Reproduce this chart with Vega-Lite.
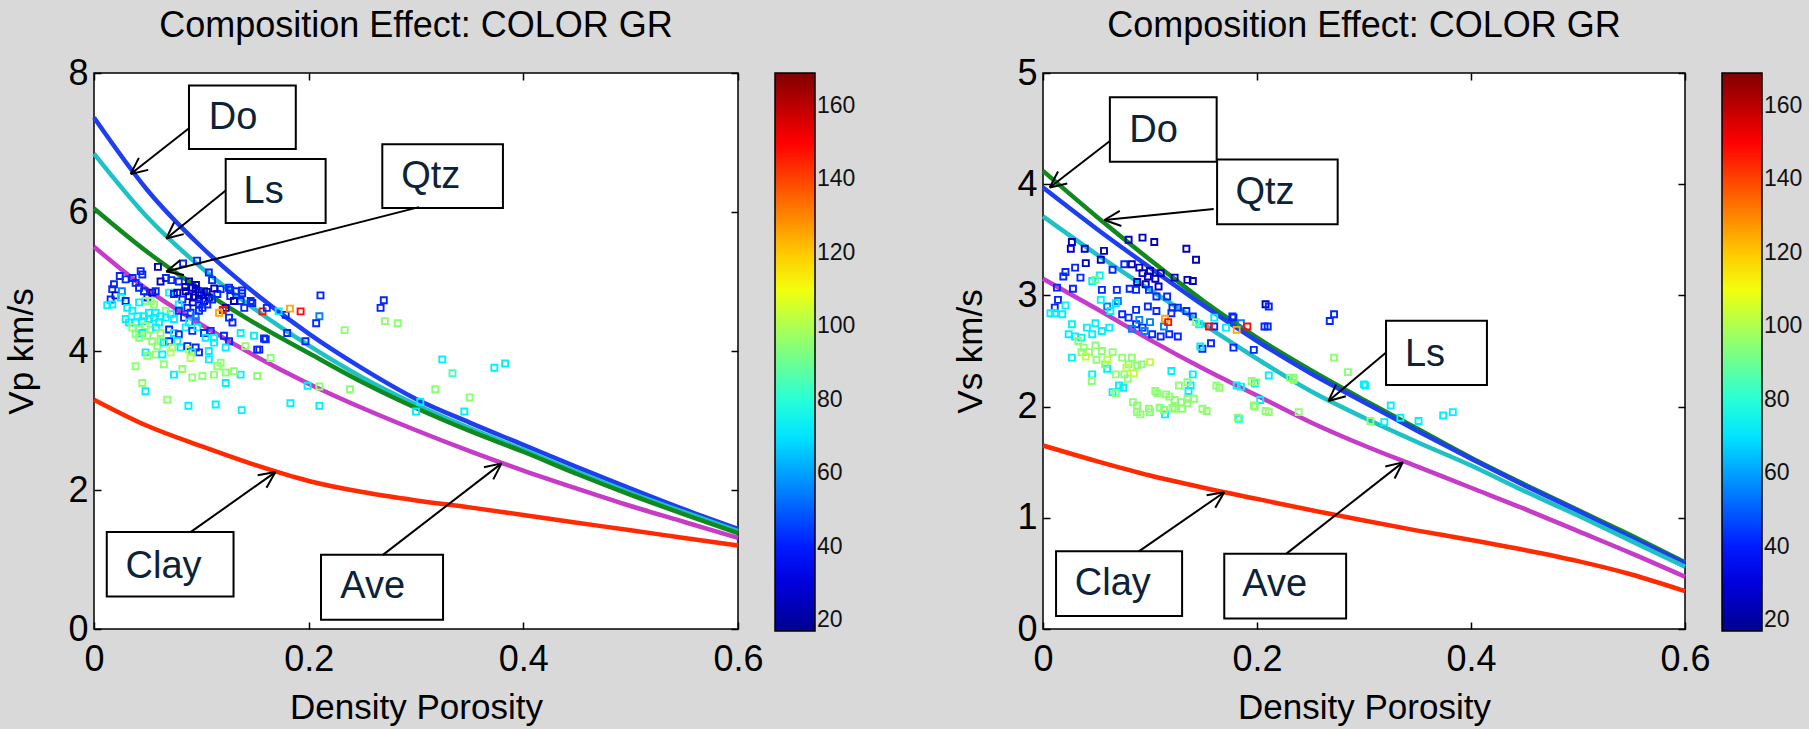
{
  "$schema": "https://vega.github.io/schema/vega-lite/v6.json",
  "background": "#d9d9d9",
  "padding": {"left": 4, "top": 7, "right": 5, "bottom": 5},
  "bounds": "flush",
  "spacing": 305,
  "datasets": {
    "curvesVp": [
      {"m":"Do","phi":0,"v":7.36},{"m":"Do","phi":0.05,"v":6.31},{"m":"Do","phi":0.1,"v":5.5},{"m":"Do","phi":0.15,"v":4.83},{"m":"Do","phi":0.2,"v":4.25},{"m":"Do","phi":0.25,"v":3.75},{"m":"Do","phi":0.3,"v":3.31},{"m":"Do","phi":0.35,"v":2.97},{"m":"Do","phi":0.4,"v":2.65},{"m":"Do","phi":0.45,"v":2.33},{"m":"Do","phi":0.5,"v":2.02},{"m":"Do","phi":0.55,"v":1.72},{"m":"Do","phi":0.6,"v":1.44},
      {"m":"Ls","phi":0,"v":6.84},{"m":"Ls","phi":0.05,"v":5.92},{"m":"Ls","phi":0.1,"v":5.2},{"m":"Ls","phi":0.15,"v":4.6},{"m":"Ls","phi":0.2,"v":4.08},{"m":"Ls","phi":0.25,"v":3.62},{"m":"Ls","phi":0.3,"v":3.23},{"m":"Ls","phi":0.35,"v":2.89},{"m":"Ls","phi":0.4,"v":2.58},{"m":"Ls","phi":0.45,"v":2.26},{"m":"Ls","phi":0.5,"v":1.96},{"m":"Ls","phi":0.55,"v":1.68},{"m":"Ls","phi":0.6,"v":1.41},
      {"m":"Qtz","phi":0,"v":6.05},{"m":"Qtz","phi":0.05,"v":5.42},{"m":"Qtz","phi":0.1,"v":4.88},{"m":"Qtz","phi":0.15,"v":4.4},{"m":"Qtz","phi":0.2,"v":3.97},{"m":"Qtz","phi":0.25,"v":3.55},{"m":"Qtz","phi":0.3,"v":3.18},{"m":"Qtz","phi":0.35,"v":2.85},{"m":"Qtz","phi":0.4,"v":2.55},{"m":"Qtz","phi":0.45,"v":2.23},{"m":"Qtz","phi":0.5,"v":1.93},{"m":"Qtz","phi":0.55,"v":1.65},{"m":"Qtz","phi":0.6,"v":1.38},
      {"m":"Ave","phi":0,"v":5.5},{"m":"Ave","phi":0.05,"v":4.88},{"m":"Ave","phi":0.1,"v":4.38},{"m":"Ave","phi":0.15,"v":3.93},{"m":"Ave","phi":0.2,"v":3.53},{"m":"Ave","phi":0.25,"v":3.18},{"m":"Ave","phi":0.3,"v":2.86},{"m":"Ave","phi":0.35,"v":2.56},{"m":"Ave","phi":0.4,"v":2.28},{"m":"Ave","phi":0.45,"v":2.02},{"m":"Ave","phi":0.5,"v":1.77},{"m":"Ave","phi":0.55,"v":1.54},{"m":"Ave","phi":0.6,"v":1.31},
      {"m":"Clay","phi":0,"v":3.3},{"m":"Clay","phi":0.05,"v":2.92},{"m":"Clay","phi":0.1,"v":2.63},{"m":"Clay","phi":0.15,"v":2.36},{"m":"Clay","phi":0.2,"v":2.13},{"m":"Clay","phi":0.25,"v":1.97},{"m":"Clay","phi":0.3,"v":1.85},{"m":"Clay","phi":0.35,"v":1.75},{"m":"Clay","phi":0.4,"v":1.64},{"m":"Clay","phi":0.45,"v":1.53},{"m":"Clay","phi":0.5,"v":1.42},{"m":"Clay","phi":0.55,"v":1.31},{"m":"Clay","phi":0.6,"v":1.2}
    ],
    "curvesVs": [
      {"m":"Qtz","phi":0,"v":4.12},{"m":"Qtz","phi":0.05,"v":3.71},{"m":"Qtz","phi":0.1,"v":3.32},{"m":"Qtz","phi":0.15,"v":2.95},{"m":"Qtz","phi":0.2,"v":2.62},{"m":"Qtz","phi":0.25,"v":2.33},{"m":"Qtz","phi":0.3,"v":2.06},{"m":"Qtz","phi":0.35,"v":1.8},{"m":"Qtz","phi":0.4,"v":1.54},{"m":"Qtz","phi":0.45,"v":1.3},{"m":"Qtz","phi":0.5,"v":1.07},{"m":"Qtz","phi":0.55,"v":0.84},{"m":"Qtz","phi":0.6,"v":0.6},
      {"m":"Do","phi":0,"v":3.97},{"m":"Do","phi":0.05,"v":3.6},{"m":"Do","phi":0.1,"v":3.25},{"m":"Do","phi":0.15,"v":2.91},{"m":"Do","phi":0.2,"v":2.59},{"m":"Do","phi":0.25,"v":2.3},{"m":"Do","phi":0.3,"v":2.04},{"m":"Do","phi":0.35,"v":1.78},{"m":"Do","phi":0.4,"v":1.53},{"m":"Do","phi":0.45,"v":1.29},{"m":"Do","phi":0.5,"v":1.06},{"m":"Do","phi":0.55,"v":0.82},{"m":"Do","phi":0.6,"v":0.59},
      {"m":"Ls","phi":0,"v":3.71},{"m":"Ls","phi":0.05,"v":3.37},{"m":"Ls","phi":0.1,"v":3.05},{"m":"Ls","phi":0.15,"v":2.74},{"m":"Ls","phi":0.2,"v":2.43},{"m":"Ls","phi":0.25,"v":2.14},{"m":"Ls","phi":0.3,"v":1.9},{"m":"Ls","phi":0.35,"v":1.68},{"m":"Ls","phi":0.4,"v":1.47},{"m":"Ls","phi":0.45,"v":1.24},{"m":"Ls","phi":0.5,"v":1.02},{"m":"Ls","phi":0.55,"v":0.79},{"m":"Ls","phi":0.6,"v":0.56},
      {"m":"Ave","phi":0,"v":3.15},{"m":"Ave","phi":0.05,"v":2.88},{"m":"Ave","phi":0.1,"v":2.6},{"m":"Ave","phi":0.15,"v":2.34},{"m":"Ave","phi":0.2,"v":2.1},{"m":"Ave","phi":0.25,"v":1.86},{"m":"Ave","phi":0.3,"v":1.65},{"m":"Ave","phi":0.35,"v":1.46},{"m":"Ave","phi":0.4,"v":1.27},{"m":"Ave","phi":0.45,"v":1.08},{"m":"Ave","phi":0.5,"v":0.88},{"m":"Ave","phi":0.55,"v":0.68},{"m":"Ave","phi":0.6,"v":0.47},
      {"m":"Clay","phi":0,"v":1.65},{"m":"Clay","phi":0.05,"v":1.51},{"m":"Clay","phi":0.1,"v":1.38},{"m":"Clay","phi":0.15,"v":1.27},{"m":"Clay","phi":0.2,"v":1.17},{"m":"Clay","phi":0.25,"v":1.07},{"m":"Clay","phi":0.3,"v":0.975},{"m":"Clay","phi":0.35,"v":0.885},{"m":"Clay","phi":0.4,"v":0.8},{"m":"Clay","phi":0.45,"v":0.71},{"m":"Clay","phi":0.5,"v":0.61},{"m":"Clay","phi":0.55,"v":0.49},{"m":"Clay","phi":0.6,"v":0.34}
    ],
    "ptsVp": [
      {"phi":0.0596,"v":5.21,"gr":25},{"phi":0.0435,"v":5.15,"gr":42},{"phi":0.045,"v":5.1,"gr":42},{"phi":0.083,"v":5.26,"gr":42},{"phi":0.096,"v":5.3,"gr":42},{"phi":0.107,"v":5.13,"gr":42},{"phi":0.11,"v":5.02,"gr":42},{"phi":0.067,"v":5.05,"gr":42},{"phi":0.062,"v":5.0,"gr":25},{"phi":0.072,"v":5.02,"gr":42},
      {"phi":0.079,"v":5.0,"gr":42},{"phi":0.024,"v":5.08,"gr":42},{"phi":0.0295,"v":5.03,"gr":42},{"phi":0.036,"v":5.05,"gr":42},{"phi":0.0388,"v":4.98,"gr":42},{"phi":0.0186,"v":4.96,"gr":42},{"phi":0.017,"v":4.89,"gr":42},{"phi":0.02,"v":4.8,"gr":25},{"phi":0.026,"v":4.86,"gr":55},{"phi":0.0155,"v":4.74,"gr":42},
      {"phi":0.0124,"v":4.66,"gr":72},{"phi":0.017,"v":4.67,"gr":72},{"phi":0.025,"v":4.77,"gr":72},{"phi":0.0295,"v":4.72,"gr":42},{"phi":0.031,"v":4.62,"gr":72},{"phi":0.042,"v":4.91,"gr":42},{"phi":0.0466,"v":4.86,"gr":42},{"phi":0.0497,"v":4.77,"gr":42},{"phi":0.0543,"v":4.84,"gr":25},{"phi":0.0575,"v":4.86,"gr":42},
      {"phi":0.07,"v":4.84,"gr":72},{"phi":0.0745,"v":4.82,"gr":42},{"phi":0.0776,"v":4.84,"gr":25},{"phi":0.0885,"v":5.0,"gr":25},{"phi":0.0916,"v":4.91,"gr":25},{"phi":0.0947,"v":4.89,"gr":25},{"phi":0.0978,"v":4.84,"gr":25},{"phi":0.1025,"v":4.86,"gr":42},{"phi":0.0854,"v":4.86,"gr":25},{"phi":0.0885,"v":4.79,"gr":25},
      {"phi":0.093,"v":4.77,"gr":25},{"phi":0.0978,"v":4.74,"gr":25},{"phi":0.1025,"v":4.72,"gr":25},{"phi":0.107,"v":4.77,"gr":25},{"phi":0.101,"v":4.62,"gr":42},{"phi":0.1056,"v":4.67,"gr":42},{"phi":0.11,"v":4.74,"gr":42},{"phi":0.1149,"v":4.82,"gr":42},{"phi":0.118,"v":4.89,"gr":42},{"phi":0.1258,"v":4.91,"gr":42},
      {"phi":0.132,"v":4.86,"gr":42},{"phi":0.138,"v":4.87,"gr":42},{"phi":0.127,"v":4.79,"gr":42},{"phi":0.1366,"v":4.72,"gr":42},{"phi":0.146,"v":4.72,"gr":42},{"phi":0.14,"v":4.62,"gr":42},{"phi":0.1304,"v":4.72,"gr":25},{"phi":0.1227,"v":4.62,"gr":25},{"phi":0.1258,"v":4.48,"gr":42},{"phi":0.129,"v":4.41,"gr":42},
      {"phi":0.0823,"v":4.74,"gr":42},{"phi":0.079,"v":4.67,"gr":72},{"phi":0.087,"v":4.62,"gr":42},{"phi":0.09,"v":4.55,"gr":42},{"phi":0.0947,"v":4.5,"gr":55},{"phi":0.0978,"v":4.58,"gr":42},{"phi":0.0839,"v":4.48,"gr":42},{"phi":0.0885,"v":4.41,"gr":72},{"phi":0.0947,"v":4.43,"gr":55},{"phi":0.079,"v":4.58,"gr":42},
      {"phi":0.0714,"v":4.53,"gr":72},{"phi":0.0745,"v":4.46,"gr":72},{"phi":0.0668,"v":4.58,"gr":95},{"phi":0.062,"v":4.5,"gr":72},{"phi":0.0575,"v":4.55,"gr":72},{"phi":0.0528,"v":4.72,"gr":95},{"phi":0.056,"v":4.67,"gr":95},{"phi":0.048,"v":4.72,"gr":95},{"phi":0.042,"v":4.7,"gr":72},{"phi":0.0357,"v":4.58,"gr":72},
      {"phi":0.0404,"v":4.5,"gr":72},{"phi":0.0466,"v":4.5,"gr":72},{"phi":0.0512,"v":4.55,"gr":72},{"phi":0.0295,"v":4.46,"gr":72},{"phi":0.0326,"v":4.41,"gr":72},{"phi":0.0388,"v":4.41,"gr":72},{"phi":0.045,"v":4.43,"gr":72},{"phi":0.0512,"v":4.46,"gr":72},{"phi":0.056,"v":4.48,"gr":72},{"phi":0.0606,"v":4.41,"gr":72},
      {"phi":0.0668,"v":4.48,"gr":72},{"phi":0.0357,"v":4.34,"gr":95},{"phi":0.042,"v":4.31,"gr":95},{"phi":0.048,"v":4.36,"gr":95},{"phi":0.0528,"v":4.31,"gr":95},{"phi":0.0575,"v":4.34,"gr":72},{"phi":0.062,"v":4.26,"gr":95},{"phi":0.0388,"v":4.24,"gr":95},{"phi":0.045,"v":4.26,"gr":72},{"phi":0.0497,"v":4.22,"gr":95},
      {"phi":0.07,"v":4.31,"gr":42},{"phi":0.0745,"v":4.26,"gr":72},{"phi":0.079,"v":4.24,"gr":42},{"phi":0.0854,"v":4.34,"gr":72},{"phi":0.0916,"v":4.29,"gr":42},{"phi":0.0963,"v":4.34,"gr":72},{"phi":0.1025,"v":4.26,"gr":42},{"phi":0.1087,"v":4.29,"gr":42},{"phi":0.104,"v":4.19,"gr":72},{"phi":0.1118,"v":4.19,"gr":72},
      {"phi":0.1211,"v":4.22,"gr":42},{"phi":0.1258,"v":4.14,"gr":42},{"phi":0.1227,"v":4.05,"gr":72},{"phi":0.0776,"v":4.14,"gr":72},{"phi":0.07,"v":4.14,"gr":42},{"phi":0.073,"v":4.05,"gr":95},{"phi":0.0807,"v":4.05,"gr":72},{"phi":0.087,"v":4.07,"gr":42},{"phi":0.0885,"v":4.02,"gr":102},{"phi":0.0947,"v":4.05,"gr":42},
      {"phi":0.0978,"v":3.98,"gr":42},{"phi":0.0916,"v":3.98,"gr":72},{"phi":0.062,"v":4.14,"gr":95},{"phi":0.0543,"v":4.14,"gr":95},{"phi":0.059,"v":4.07,"gr":95},{"phi":0.065,"v":4.12,"gr":72},{"phi":0.042,"v":4.19,"gr":95},{"phi":0.0575,"v":3.95,"gr":95},{"phi":0.0714,"v":3.98,"gr":102},{"phi":0.107,"v":4.0,"gr":72},
      {"phi":0.1118,"v":4.12,"gr":72},{"phi":0.1366,"v":4.26,"gr":72},{"phi":0.152,"v":4.02,"gr":42},{"phi":0.1584,"v":4.18,"gr":42},{"phi":0.141,"v":4.07,"gr":95},{"phi":0.149,"v":4.22,"gr":72},{"phi":0.1646,"v":3.9,"gr":95},{"phi":0.152,"v":3.64,"gr":95},{"phi":0.1366,"v":3.66,"gr":72},{"phi":0.1304,"v":3.71,"gr":95},
      {"phi":0.1227,"v":3.69,"gr":95},{"phi":0.1149,"v":3.78,"gr":95},{"phi":0.118,"v":3.83,"gr":95},{"phi":0.107,"v":3.88,"gr":72},{"phi":0.09,"v":3.9,"gr":102},{"phi":0.0637,"v":3.95,"gr":72},{"phi":0.048,"v":3.98,"gr":72},{"phi":0.0497,"v":3.93,"gr":95},{"phi":0.0388,"v":3.78,"gr":95},{"phi":0.065,"v":3.81,"gr":95},
      {"phi":0.0745,"v":3.66,"gr":72},{"phi":0.0823,"v":3.74,"gr":95},{"phi":0.101,"v":3.64,"gr":95},{"phi":0.0916,"v":3.62,"gr":95},{"phi":0.1118,"v":3.66,"gr":95},{"phi":0.045,"v":3.54,"gr":95},{"phi":0.048,"v":3.42,"gr":72},{"phi":0.0683,"v":3.3,"gr":95},{"phi":0.088,"v":3.21,"gr":72},{"phi":0.1134,"v":3.23,"gr":72},
      {"phi":0.1376,"v":3.15,"gr":72},{"phi":0.1227,"v":3.54,"gr":72},{"phi":0.3245,"v":3.88,"gr":72},{"phi":0.334,"v":3.68,"gr":85},{"phi":0.373,"v":3.76,"gr":72},{"phi":0.383,"v":3.82,"gr":72},{"phi":0.318,"v":3.45,"gr":95},{"phi":0.35,"v":3.33,"gr":95},{"phi":0.345,"v":3.13,"gr":72},{"phi":0.304,"v":3.27,"gr":72},
      {"phi":0.3,"v":3.13,"gr":72},{"phi":0.271,"v":4.43,"gr":95},{"phi":0.283,"v":4.4,"gr":95},{"phi":0.267,"v":4.62,"gr":42},{"phi":0.27,"v":4.73,"gr":42},{"phi":0.211,"v":4.8,"gr":42},{"phi":0.21,"v":4.5,"gr":55},{"phi":0.207,"v":4.4,"gr":42},{"phi":0.2335,"v":4.3,"gr":95},{"phi":0.2385,"v":3.45,"gr":95},
      {"phi":0.21,"v":3.21,"gr":72},{"phi":0.183,"v":3.25,"gr":72},{"phi":0.199,"v":3.5,"gr":72},{"phi":0.21,"v":3.49,"gr":95},{"phi":0.197,"v":4.14,"gr":42},{"phi":0.18,"v":4.26,"gr":42},{"phi":0.1786,"v":4.52,"gr":42},{"phi":0.172,"v":4.57,"gr":72},{"phi":0.1925,"v":4.57,"gr":148},{"phi":0.1826,"v":4.61,"gr":125},
      {"phi":0.157,"v":4.57,"gr":148},{"phi":0.12,"v":4.59,"gr":148},{"phi":0.1165,"v":4.55,"gr":125},{"phi":0.095,"v":4.95,"gr":25},{"phi":0.1,"v":4.8,"gr":25},{"phi":0.105,"v":4.85,"gr":25},{"phi":0.092,"v":4.7,"gr":25},{"phi":0.112,"v":4.9,"gr":25},{"phi":0.085,"v":4.92,"gr":25},{"phi":0.098,"v":4.68,"gr":42},
      {"phi":0.138,"v":4.83,"gr":42},{"phi":0.127,"v":4.88,"gr":42},{"phi":0.1475,"v":4.69,"gr":42},{"phi":0.161,"v":4.62,"gr":42},{"phi":0.16,"v":4.17,"gr":42},{"phi":0.154,"v":4.02,"gr":42}
    ],
    "ptsVs": [
      {"phi":0.093,"v":3.52,"gr":25},{"phi":0.08,"v":3.5,"gr":25},{"phi":0.104,"v":3.48,"gr":25},{"phi":0.134,"v":3.42,"gr":25},{"phi":0.143,"v":3.32,"gr":25},{"phi":0.027,"v":3.48,"gr":25},{"phi":0.026,"v":3.42,"gr":25},{"phi":0.039,"v":3.42,"gr":25},{"phi":0.054,"v":3.32,"gr":25},{"phi":0.057,"v":3.4,"gr":25},
      {"phi":0.04,"v":3.29,"gr":25},{"phi":0.083,"v":3.28,"gr":25},{"phi":0.09,"v":3.25,"gr":25},{"phi":0.093,"v":3.2,"gr":25},{"phi":0.098,"v":3.17,"gr":25},{"phi":0.1,"v":3.22,"gr":25},{"phi":0.105,"v":3.15,"gr":25},{"phi":0.11,"v":3.2,"gr":25},{"phi":0.088,"v":3.12,"gr":25},{"phi":0.096,"v":3.1,"gr":25},
      {"phi":0.108,"v":3.08,"gr":25},{"phi":0.123,"v":3.16,"gr":25},{"phi":0.135,"v":3.14,"gr":25},{"phi":0.14,"v":3.13,"gr":25},{"phi":0.208,"v":2.92,"gr":25},
      {"phi":0.021,"v":3.21,"gr":42},{"phi":0.019,"v":3.17,"gr":42},{"phi":0.03,"v":3.25,"gr":42},{"phi":0.035,"v":3.16,"gr":42},{"phi":0.028,"v":3.06,"gr":42},{"phi":0.013,"v":3.07,"gr":42},{"phi":0.014,"v":2.96,"gr":42},{"phi":0.011,"v":2.89,"gr":42},{"phi":0.055,"v":3.05,"gr":42},{"phi":0.065,"v":3.23,"gr":42},
      {"phi":0.069,"v":3.05,"gr":42},{"phi":0.076,"v":3.28,"gr":42},{"phi":0.081,"v":3.06,"gr":42},{"phi":0.087,"v":3.05,"gr":42},{"phi":0.099,"v":3.05,"gr":42},{"phi":0.106,"v":2.99,"gr":42},{"phi":0.116,"v":2.99,"gr":42},{"phi":0.121,"v":2.89,"gr":42},{"phi":0.126,"v":2.89,"gr":42},{"phi":0.12,"v":2.84,"gr":42},
      {"phi":0.106,"v":2.86,"gr":42},{"phi":0.098,"v":2.9,"gr":42},{"phi":0.087,"v":2.87,"gr":42},{"phi":0.074,"v":2.83,"gr":42},{"phi":0.08,"v":2.8,"gr":42},{"phi":0.087,"v":2.74,"gr":42},{"phi":0.093,"v":2.71,"gr":42},{"phi":0.102,"v":2.65,"gr":42},{"phi":0.11,"v":2.63,"gr":42},{"phi":0.118,"v":2.65,"gr":42},
      {"phi":0.126,"v":2.63,"gr":42},{"phi":0.134,"v":2.86,"gr":42},{"phi":0.14,"v":2.81,"gr":42},{"phi":0.149,"v":2.52,"gr":42},{"phi":0.157,"v":2.57,"gr":42},{"phi":0.16,"v":2.72,"gr":42},{"phi":0.177,"v":2.81,"gr":42},{"phi":0.178,"v":2.53,"gr":42},{"phi":0.197,"v":2.51,"gr":42},{"phi":0.207,"v":2.72,"gr":42},
      {"phi":0.211,"v":2.9,"gr":42},{"phi":0.272,"v":2.83,"gr":42},{"phi":0.268,"v":2.77,"gr":42},{"phi":0.178,"v":2.8,"gr":42},{"phi":0.21,"v":2.72,"gr":42},
      {"phi":0.185,"v":2.75,"gr":55},{"phi":0.09,"v":2.78,"gr":55},{"phi":0.1,"v":2.76,"gr":55},{"phi":0.113,"v":2.72,"gr":55},{"phi":0.095,"v":2.68,"gr":55},{"phi":0.083,"v":2.7,"gr":55},{"phi":0.07,"v":2.95,"gr":55},{"phi":0.06,"v":2.9,"gr":55},
      {"phi":0.007,"v":2.84,"gr":72},{"phi":0.011,"v":2.84,"gr":72},{"phi":0.018,"v":2.83,"gr":72},{"phi":0.021,"v":2.91,"gr":72},{"phi":0.027,"v":2.74,"gr":72},{"phi":0.024,"v":2.65,"gr":72},{"phi":0.03,"v":2.63,"gr":72},{"phi":0.036,"v":2.62,"gr":72},{"phi":0.041,"v":2.71,"gr":72},{"phi":0.046,"v":2.65,"gr":72},
      {"phi":0.049,"v":2.75,"gr":72},{"phi":0.055,"v":2.68,"gr":72},{"phi":0.062,"v":2.71,"gr":72},{"phi":0.054,"v":2.96,"gr":72},{"phi":0.063,"v":2.86,"gr":72},{"phi":0.068,"v":2.93,"gr":72},{"phi":0.046,"v":3.13,"gr":72},{"phi":0.053,"v":3.18,"gr":72},{"phi":0.027,"v":2.44,"gr":72},{"phi":0.046,"v":2.29,"gr":72},
      {"phi":0.06,"v":2.34,"gr":72},{"phi":0.071,"v":2.19,"gr":72},{"phi":0.065,"v":2.13,"gr":72},{"phi":0.147,"v":2.54,"gr":72},{"phi":0.16,"v":2.8,"gr":72},{"phi":0.171,"v":2.71,"gr":72},{"phi":0.14,"v":2.29,"gr":72},{"phi":0.181,"v":2.19,"gr":72},{"phi":0.12,"v":2.32,"gr":72},{"phi":0.146,"v":2.74,"gr":72},
      {"phi":0.3,"v":2.2,"gr":72},{"phi":0.345,"v":2.22,"gr":72},{"phi":0.211,"v":2.28,"gr":72},{"phi":0.075,"v":2.17,"gr":72},{"phi":0.114,"v":1.93,"gr":72},{"phi":0.136,"v":2.14,"gr":72},{"phi":0.138,"v":2.19,"gr":72},{"phi":0.183,"v":1.89,"gr":72},{"phi":0.185,"v":2.18,"gr":72},{"phi":0.203,"v":2.06,"gr":72},
      {"phi":0.198,"v":2.21,"gr":72},{"phi":0.301,"v":2.19,"gr":72},{"phi":0.325,"v":2.01,"gr":72},{"phi":0.334,"v":1.9,"gr":72},{"phi":0.351,"v":1.87,"gr":72},{"phi":0.319,"v":1.86,"gr":72},{"phi":0.374,"v":1.92,"gr":72},{"phi":0.383,"v":1.95,"gr":72},
      {"phi":0.114,"v":2.79,"gr":125},{"phi":0.181,"v":2.69,"gr":125},{"phi":0.117,"v":2.76,"gr":148},{"phi":0.155,"v":2.72,"gr":148},{"phi":0.191,"v":2.72,"gr":148},
      {"phi":0.033,"v":2.59,"gr":95},{"phi":0.038,"v":2.53,"gr":95},{"phi":0.043,"v":2.49,"gr":95},{"phi":0.049,"v":2.55,"gr":95},{"phi":0.055,"v":2.5,"gr":95},{"phi":0.065,"v":2.49,"gr":95},{"phi":0.058,"v":2.38,"gr":95},{"phi":0.05,"v":2.42,"gr":95},{"phi":0.049,"v":3.14,"gr":90},{"phi":0.036,"v":2.49,"gr":95},
      {"phi":0.074,"v":2.44,"gr":95},{"phi":0.083,"v":2.44,"gr":95},{"phi":0.08,"v":2.38,"gr":95},{"phi":0.076,"v":2.29,"gr":95},{"phi":0.088,"v":2.37,"gr":95},{"phi":0.092,"v":2.38,"gr":95},{"phi":0.079,"v":2.25,"gr":95},{"phi":0.068,"v":2.29,"gr":95},{"phi":0.127,"v":2.19,"gr":95},{"phi":0.135,"v":2.22,"gr":95},
      {"phi":0.105,"v":2.14,"gr":95},{"phi":0.115,"v":2.11,"gr":95},{"phi":0.121,"v":1.99,"gr":95},{"phi":0.129,"v":2.04,"gr":95},{"phi":0.109,"v":1.99,"gr":95},{"phi":0.099,"v":1.98,"gr":95},{"phi":0.088,"v":1.95,"gr":95},{"phi":0.084,"v":2.04,"gr":95},{"phi":0.135,"v":2.07,"gr":95},{"phi":0.149,"v":1.98,"gr":95},
      {"phi":0.162,"v":2.19,"gr":95},{"phi":0.195,"v":2.23,"gr":95},{"phi":0.197,"v":2.01,"gr":95},{"phi":0.208,"v":1.96,"gr":95},{"phi":0.182,"v":1.9,"gr":95},{"phi":0.143,"v":2.76,"gr":95},{"phi":0.231,"v":2.26,"gr":95},{"phi":0.272,"v":2.44,"gr":95},{"phi":0.285,"v":2.31,"gr":95},{"phi":0.234,"v":2.26,"gr":95},
      {"phi":0.199,"v":2.22,"gr":95},{"phi":0.0456,"v":2.23,"gr":95},{"phi":0.068,"v":2.12,"gr":95},{"phi":0.088,"v":2.01,"gr":95},{"phi":0.091,"v":1.93,"gr":95},{"phi":0.1,"v":1.95,"gr":95},{"phi":0.107,"v":2.12,"gr":95},{"phi":0.113,"v":1.97,"gr":95},{"phi":0.118,"v":2.09,"gr":95},{"phi":0.123,"v":2.06,"gr":95},
      {"phi":0.123,"v":1.98,"gr":95},{"phi":0.13,"v":1.98,"gr":95},{"phi":0.135,"v":2.03,"gr":95},{"phi":0.141,"v":2.07,"gr":95},{"phi":0.153,"v":1.96,"gr":95},{"phi":0.165,"v":2.17,"gr":95},{"phi":0.198,"v":2.0,"gr":95},{"phi":0.211,"v":1.95,"gr":95},{"phi":0.234,"v":2.24,"gr":95},{"phi":0.239,"v":1.95,"gr":95},
      {"phi":0.306,"v":1.87,"gr":95},{"phi":0.04,"v":2.45,"gr":102},{"phi":0.06,"v":2.42,"gr":102},{"phi":0.078,"v":2.35,"gr":102},{"phi":0.1,"v":2.4,"gr":102},{"phi":0.085,"v":2.3,"gr":102}
    ],
    "boxVp": [
      {"label":"Do","x1":0.0885,"x2":0.188,"y1":6.905,"y2":7.82,"tx":0.1295,"ty":7.35},
      {"label":"Ls","x1":0.1227,"x2":0.2158,"y1":5.843,"y2":6.762,"tx":0.158,"ty":6.29},
      {"label":"Qtz","x1":0.2686,"x2":0.381,"y1":6.057,"y2":6.976,"tx":0.3137,"ty":6.5},
      {"label":"Clay","x1":0.0119,"x2":0.13,"y1":0.469,"y2":1.397,"tx":0.0648,"ty":0.885},
      {"label":"Ave","x1":0.2115,"x2":0.3252,"y1":0.134,"y2":1.067,"tx":0.2596,"ty":0.598}
    ],
    "boxVs": [
      {"label":"Do","x1":0.0625,"x2":0.1623,"y1":4.203,"y2":4.782,"tx":0.1033,"ty":4.478},
      {"label":"Qtz","x1":0.1627,"x2":0.2754,"y1":3.639,"y2":4.221,"tx":0.2075,"ty":3.925},
      {"label":"Ls","x1":0.3206,"x2":0.4149,"y1":2.194,"y2":2.773,"tx":0.357,"ty":2.463},
      {"label":"Clay","x1":0.0122,"x2":0.13,"y1":0.1164,"y2":0.6985,"tx":0.0652,"ty":0.409},
      {"label":"Ave","x1":0.1694,"x2":0.2833,"y1":0.0955,"y2":0.6776,"tx":0.2165,"ty":0.394}
    ],
    "arrVp": [
      {"x1":0.0885,"y1":7.205,"x2":0.0342,"y2":6.548},{"x1":0.0342,"y1":6.548,"x2":0.0418,"y2":6.779},{"x1":0.0342,"y1":6.548,"x2":0.0505,"y2":6.606},
      {"x1":0.1227,"y1":6.31,"x2":0.0674,"y2":5.62},{"x1":0.0674,"y1":5.62,"x2":0.0747,"y2":5.853},{"x1":0.0674,"y1":5.62,"x2":0.0836,"y2":5.682},
      {"x1":0.3028,"y1":6.07,"x2":0.0674,"y2":5.143},{"x1":0.0674,"y1":5.143,"x2":0.0803,"y2":5.306},{"x1":0.0674,"y1":5.143,"x2":0.0838,"y2":5.094},
      {"x1":0.0903,"y1":1.397,"x2":0.169,"y2":2.258},{"x1":0.169,"y1":2.258,"x2":0.1607,"y2":2.0325},{"x1":0.169,"y1":2.258,"x2":0.1525,"y2":2.211},
      {"x1":0.2692,"y1":1.067,"x2":0.3797,"y2":2.383},{"x1":0.3797,"y1":2.383,"x2":0.372,"y2":2.1525},{"x1":0.3797,"y1":2.383,"x2":0.3633,"y2":2.326}
    ],
    "arrVs": [
      {"x1":0.0625,"y1":4.388,"x2":0.0063,"y2":3.97},{"x1":0.0063,"y1":3.97,"x2":0.01404,"y2":4.114},{"x1":0.0063,"y1":3.97,"x2":0.0227,"y2":4.006},
      {"x1":0.1595,"y1":3.776,"x2":0.0574,"y2":3.678},{"x1":0.0574,"y1":3.678,"x2":0.0718,"y2":3.7606},{"x1":0.0574,"y1":3.678,"x2":0.0733,"y2":3.6245},
      {"x1":0.3206,"y1":2.487,"x2":0.2668,"y2":2.051},{"x1":0.2668,"y1":2.051,"x2":0.2739,"y2":2.198},{"x1":0.2668,"y1":2.051,"x2":0.2831,"y2":2.0935},
      {"x1":0.0896,"y1":0.6985,"x2":0.1694,"y2":1.23},{"x1":0.1694,"y1":1.23,"x2":0.161,"y2":1.0906},{"x1":0.1694,"y1":1.23,"x2":0.1529,"y2":1.203},
      {"x1":0.2275,"y1":0.6776,"x2":0.3363,"y2":1.4985},{"x1":0.3363,"y1":1.4985,"x2":0.3286,"y2":1.3539},{"x1":0.3363,"y1":1.4985,"x2":0.3199,"y2":1.4615}
    ]
  },
  "hconcat": [
    {
      "width": 644,
      "height": 556,
      "title": {"text": "Composition Effect: COLOR GR"},
      "layer": [
        {
          "data": {"name": "curvesVp"},
          "mark": {"type": "line", "strokeWidth": 4.5, "interpolate": "monotone"},
          "encoding": {
            "x": {"field": "phi", "type": "quantitative", "scale": {"domain": [0, 0.6], "nice": false}, "axis": {"orient": "bottom", "values": [0, 0.2, 0.4, 0.6], "format": "~g", "title": "Density Porosity"}},
            "y": {"field": "v", "type": "quantitative", "scale": {"domain": [0, 8], "nice": false}, "axis": {"orient": "left", "values": [0, 2, 4, 6, 8], "title": "Vp km/s"}},
            "stroke": {"field": "m", "type": "nominal", "scale": {"domain": ["Do", "Ls", "Qtz", "Ave", "Clay"], "range": ["#1e3ff0", "#1fc2c4", "#108a1e", "#c63cc8", "#ff2a00"]}, "legend": null}
          }
        },
        {
          "data": {"name": "ptsVp"},
          "mark": {"type": "point", "shape": "square", "filled": false, "size": 36, "strokeWidth": 1.9, "opacity": 1},
          "encoding": {
            "x": {"field": "phi", "type": "quantitative", "axis": null},
            "y": {"field": "v", "type": "quantitative", "axis": null},
            "color": {"field": "gr", "type": "quantitative", "scale": {"type": "linear", "domain": [17, 36, 74, 112, 150, 169], "range": ["#00008f", "#0000ff", "#00ffff", "#ffff00", "#ff0000", "#800000"], "interpolate": "rgb"}, "legend": {"values": [20, 40, 60, 80, 100, 120, 140, 160], "title": null}}
          }
        },
        {
          "data": {"name": "boxVp"},
          "mark": {"type": "rect", "fill": "white", "stroke": "black", "strokeWidth": 2},
          "encoding": {
            "x": {"field": "x1", "type": "quantitative", "axis": {"orient": "top", "values": [0, 0.2, 0.4, 0.6], "labels": false, "title": null}},
            "x2": {"field": "x2"},
            "y": {"field": "y1", "type": "quantitative", "axis": {"orient": "right", "values": [0, 2, 4, 6, 8], "labels": false, "title": null}},
            "y2": {"field": "y2"}
          }
        },
        {
          "data": {"name": "arrVp"},
          "mark": {"type": "rule", "stroke": "black", "strokeWidth": 2},
          "encoding": {
            "x": {"field": "x1", "type": "quantitative", "axis": null},
            "y": {"field": "y1", "type": "quantitative", "axis": null},
            "x2": {"field": "x2"},
            "y2": {"field": "y2"}
          }
        },
        {
          "data": {"name": "boxVp"},
          "mark": {"type": "text", "font": "Liberation Sans", "fontSize": 38, "color": "#0c2237", "align": "center", "baseline": "middle"},
          "encoding": {
            "x": {"field": "tx", "type": "quantitative", "axis": null},
            "y": {"field": "ty", "type": "quantitative", "axis": null},
            "text": {"field": "label"}
          }
        }
      ],
      "resolve": {"axis": {"x": "independent", "y": "independent"}}
    },
    {
      "width": 642,
      "height": 556,
      "title": {"text": "Composition Effect: COLOR GR"},
      "layer": [
        {
          "data": {"name": "curvesVs"},
          "mark": {"type": "line", "strokeWidth": 4.5, "interpolate": "monotone"},
          "encoding": {
            "x": {"field": "phi", "type": "quantitative", "scale": {"domain": [0, 0.6], "nice": false}, "axis": {"orient": "bottom", "values": [0, 0.2, 0.4, 0.6], "format": "~g", "title": "Density Porosity"}},
            "y": {"field": "v", "type": "quantitative", "scale": {"domain": [0, 5], "nice": false}, "axis": {"orient": "left", "values": [0, 1, 2, 3, 4, 5], "title": "Vs km/s"}},
            "stroke": {"field": "m", "type": "nominal", "scale": {"domain": ["Do", "Ls", "Qtz", "Ave", "Clay"], "range": ["#1e3ff0", "#1fc2c4", "#108a1e", "#c63cc8", "#ff2a00"]}, "legend": null}
          }
        },
        {
          "data": {"name": "ptsVs"},
          "mark": {"type": "point", "shape": "square", "filled": false, "size": 36, "strokeWidth": 1.9, "opacity": 1},
          "encoding": {
            "x": {"field": "phi", "type": "quantitative", "axis": null},
            "y": {"field": "v", "type": "quantitative", "axis": null},
            "color": {"field": "gr", "type": "quantitative", "scale": {"type": "linear", "domain": [17, 36, 74, 112, 150, 169], "range": ["#00008f", "#0000ff", "#00ffff", "#ffff00", "#ff0000", "#800000"], "interpolate": "rgb"}, "legend": {"values": [20, 40, 60, 80, 100, 120, 140, 160], "title": null}}
          }
        },
        {
          "data": {"name": "boxVs"},
          "mark": {"type": "rect", "fill": "white", "stroke": "black", "strokeWidth": 2},
          "encoding": {
            "x": {"field": "x1", "type": "quantitative", "axis": {"orient": "top", "values": [0, 0.2, 0.4, 0.6], "labels": false, "title": null}},
            "x2": {"field": "x2"},
            "y": {"field": "y1", "type": "quantitative", "axis": {"orient": "right", "values": [0, 1, 2, 3, 4, 5], "labels": false, "title": null}},
            "y2": {"field": "y2"}
          }
        },
        {
          "data": {"name": "arrVs"},
          "mark": {"type": "rule", "stroke": "black", "strokeWidth": 2},
          "encoding": {
            "x": {"field": "x1", "type": "quantitative", "axis": null},
            "y": {"field": "y1", "type": "quantitative", "axis": null},
            "x2": {"field": "x2"},
            "y2": {"field": "y2"}
          }
        },
        {
          "data": {"name": "boxVs"},
          "mark": {"type": "text", "font": "Liberation Sans", "fontSize": 38, "color": "#0c2237", "align": "center", "baseline": "middle"},
          "encoding": {
            "x": {"field": "tx", "type": "quantitative", "axis": null},
            "y": {"field": "ty", "type": "quantitative", "axis": null},
            "text": {"field": "label"}
          }
        }
      ],
      "resolve": {"axis": {"x": "independent", "y": "independent"}}
    }
  ],
  "resolve": {"scale": {"color": "independent", "stroke": "independent"}, "legend": {"color": "independent"}},
  "config": {
    "view": {"fill": "white", "stroke": "black", "strokeWidth": 1.5},
    "title": {"font": "Liberation Sans", "fontSize": 36, "fontWeight": "normal", "color": "black", "offset": 10, "anchor": "middle"},
    "axis": {
      "labelFont": "Liberation Sans", "titleFont": "Liberation Sans", "labelFontSize": 36, "titleFontSize": 35,
      "labelColor": "black", "titleColor": "black", "titleFontWeight": "normal",
      "grid": false, "domain": false, "tickColor": "black", "tickSize": -7, "tickWidth": 1.5,
      "labelOverlap": false, "labelFlush": false, "labelBound": false
    },
    "axisLeft": {"labelPadding": 13, "titlePadding": 28},
    "axisBottom": {"labelPadding": 20, "titlePadding": 13},
    "legend": {
      "orient": "right", "offset": 28, "padding": 0, "gradientThickness": 40, "gradientLength": 558,
      "gradientStrokeColor": "black", "gradientStrokeWidth": 1.5,
      "labelFont": "Liberation Sans", "labelFontSize": 23, "labelColor": "#111111", "labelOffset": 5, "labelOverlap": false
    }
  }
}
